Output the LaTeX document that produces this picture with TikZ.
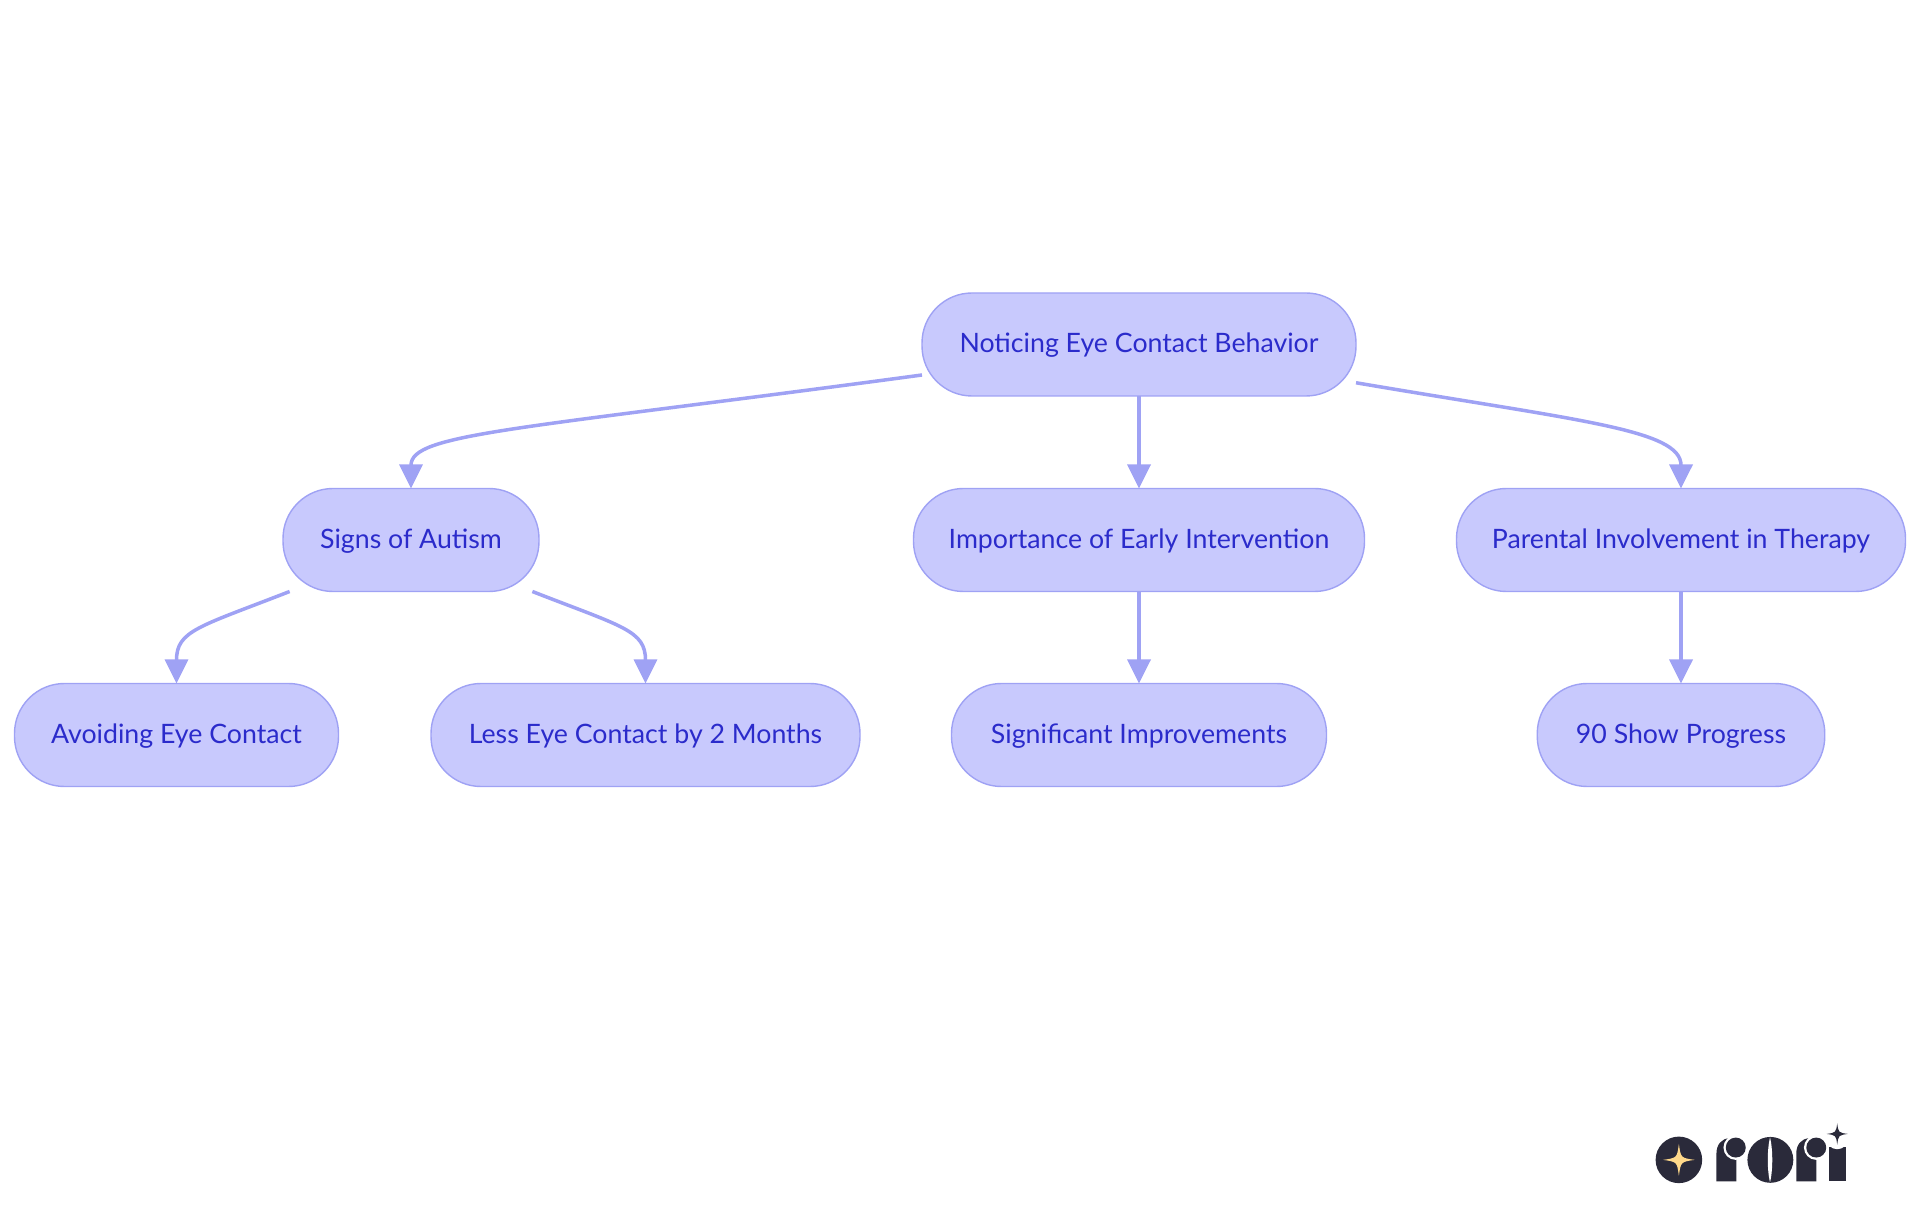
\documentclass[tikz,border=0pt]{standalone}
\usepackage{fontspec}
\setmainfont{Lato}
\usetikzlibrary{arrows.meta}
\definecolor{boxfill}{HTML}{C8C9FD}
\definecolor{boxline}{HTML}{9FA2F4}
\definecolor{boxtext}{HTML}{2B2BCB}
\definecolor{logodark}{HTML}{2A2A3A}
\definecolor{logostar}{HTML}{FFD98A}
\tikzset{
  topic/.style={draw=boxline,fill=boxfill,text=boxtext,line width=.4pt,rounded corners=.5cm,
    minimum height=1.03cm,text height=.22cm,text depth=.05cm,inner sep=0pt,outer sep=0pt,
    font=\fontsize{7.6}{9}\selectfont},
  flow/.style={draw=boxline,line width=1pt,-{Triangle[length=.24cm,width=.23cm]}},
  spark/.pic={\fill (-1,0) .. controls (-.12,.12) .. (0,1) .. controls (.12,.12) .. (1,0)
    .. controls (.12,-.12) .. (0,-1) .. controls (-.12,-.12) .. (-1,0) -- cycle;}
}
\begin{document}
\begin{tikzpicture}
    \useasboundingbox (0,0) rectangle (19.2,12.15);

    \foreach \name/\x/\y/\w/\txt in {root/11.39/8.705/4.34/Noticing Eye Contact Behavior,
      signs/4.11/6.75/2.56/Signs of Autism,
      early/11.39/6.75/4.51/Importance of Early Intervention,
      parental/16.81/6.75/4.49/Parental Involvement in Therapy,
      avoid/1.765/4.8/3.24/Avoiding Eye Contact,
      less/6.455/4.8/4.29/Less Eye Contact by 2 Months,
      improve/11.39/4.8/3.75/Significant Improvements,
      progress/16.81/4.8/2.875/90 Show Progress} {
      \node[topic,minimum width=\w cm] (\name) at (\x,\y) {\txt};
    }

    \foreach \a/\b in {root/early,early/improve,parental/progress} {
      \draw[flow] (\a.south) -- (\b.north);
    }

    \draw[flow] (root.188.3) .. controls +(-4.08,-.55) and +(0,.55) .. (signs.north);
    \draw[flow] (root.-10.9) .. controls +(2.23,-.38) and +(0,.59) .. (parental.north);
    \draw[flow] (signs.203) .. controls +(-.91,-.355) and +(0,.53) .. (avoid.north);
    \draw[flow] (signs.-23.1) .. controls +(.91,-.355) and +(0,.53) .. (less.north);

    \begin{scope}[shift={(16.2,1.15)},x=.003333cm,y=-.003333cm]
      \fill[logodark] (177,180) circle (70);
      \pic[logostar,scale=48] at (177,180) {spark};

      \fill[logodark] (290,245) -- (290,160) .. controls (290,135) and (305,115) .. (330,115) -- (350,115) -- (350,245) -- cycle;
      \fill[white] (348,143) circle (37);
      \fill[logodark] (348,143) circle (30);

      \fill[logodark] (452,180) circle (69);
      \fill[white] (451,112) .. controls (442,150) and (442,210) .. (451,248) .. controls (460,210) and (460,150) .. (451,112) -- cycle;

      \fill[logodark] (627,245) -- (627,140) -- (680,140) -- (680,245) -- cycle;
      \fill[white] (653,115) circle (33);
      \pic[logodark,scale=32] at (653,102) {spark};

      \fill[logodark] (530,245) -- (530,160) .. controls (530,135) and (545,115) .. (570,115) -- (590,115) -- (590,245) -- cycle;
      \fill[white] (590,143) circle (37);
      \fill[logodark] (590,143) circle (30);
    \end{scope}
  \end{tikzpicture}
\end{document}
